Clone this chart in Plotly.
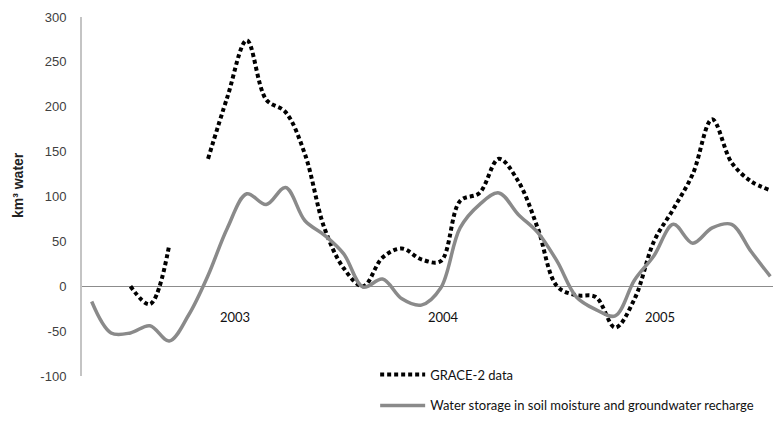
import plotly.graph_objects as go

# ---- data ----
periods = list(range(36))
grace = [None, None, 0, -20, 46, None, 142, 211, 274, 208, 194, 147, 65, 20, 0, 32,
         42, 30, 28, 95, 104, 142, 117, 65, 0, -10, -12, -46, -14, 50, 86, 125,
         186, 138, 117, 107]
storage = [-17, -52, -52, -44, -61, -32, 12, 65, 103, 91, 110, 73, 57, 36, -1, 8,
           -14, -21, -2, 65, 91, 104, 80, 60, 28, -12, -26, -33, 7, 34, 69, 48,
           65, 69, 39, 11]
year_labels = ["2003", "2004", "2005"]
year_label_pos = [7.41, 18.12, 29.29]
y_tick_vals = [-100, -50, 0, 50, 100, 150, 200, 250, 300]
y_tick_text = ["-100", "-50", "0", "50", "100", "150", "200", "250", "300"]

fig = go.Figure()
fig.add_trace(go.Scatter(
    x=periods, y=grace, mode="lines", name="GRACE-2 data",
    line=dict(color="black", width=4, dash="4px,3px", shape="spline", smoothing=1.0),
    legend="legend", connectgaps=False))
fig.add_trace(go.Scatter(
    x=periods, y=storage, mode="lines",
    name="Water storage in soil moisture and groundwater recharge",
    line=dict(color="#8a8a8a", width=3.5, shape="spline", smoothing=1.0),
    legend="legend2"))

for lab, xp in zip(year_labels, year_label_pos):
    fig.add_annotation(x=xp, y=-34, xref="x", yref="y", text=lab, showarrow=False,
                       font=dict(family="Lato, Open Sans, sans-serif", size=13, color="#111"))

fig.add_annotation(x=-0.0916, y=0.532, xref="paper", yref="paper", text="<b>km³ water</b>",
                   textangle=-90, showarrow=False, xanchor="center", yanchor="middle",
                   font=dict(family="Liberation Sans, Arial", size=14, color="#222"))

legend_font = dict(family="Lato, Open Sans, sans-serif", size=13, color="#111")
fig.update_layout(
    width=773, height=415,
    margin=dict(l=74, r=1, t=9, b=47),
    paper_bgcolor="white", plot_bgcolor="white",
    showlegend=True,
    legend=dict(x=0.42, y=0.004, xanchor="left", yanchor="middle",
                bgcolor="rgba(0,0,0,0)", itemwidth=45, font=legend_font),
    legend2=dict(x=0.42, y=-0.082, xanchor="left", yanchor="middle",
                 bgcolor="rgba(0,0,0,0)", itemwidth=45, font=legend_font),
    xaxis=dict(range=[-0.5, 35.5], showgrid=False, zeroline=False, showline=False,
               showticklabels=False, ticks=""),
    yaxis=dict(range=[-100, 300], tickmode="array", tickvals=y_tick_vals,
               ticktext=y_tick_text, showgrid=False,
               zeroline=True, zerolinecolor="#8c8c8c", zerolinewidth=1,
               showline=True, linecolor="#c4c4c4", linewidth=2,
               ticks="", ticklabelstandoff=11,
               tickfont=dict(family="Liberation Sans, Arial", size=13, color="#404040")),
)

fig.write_html("out.html")
